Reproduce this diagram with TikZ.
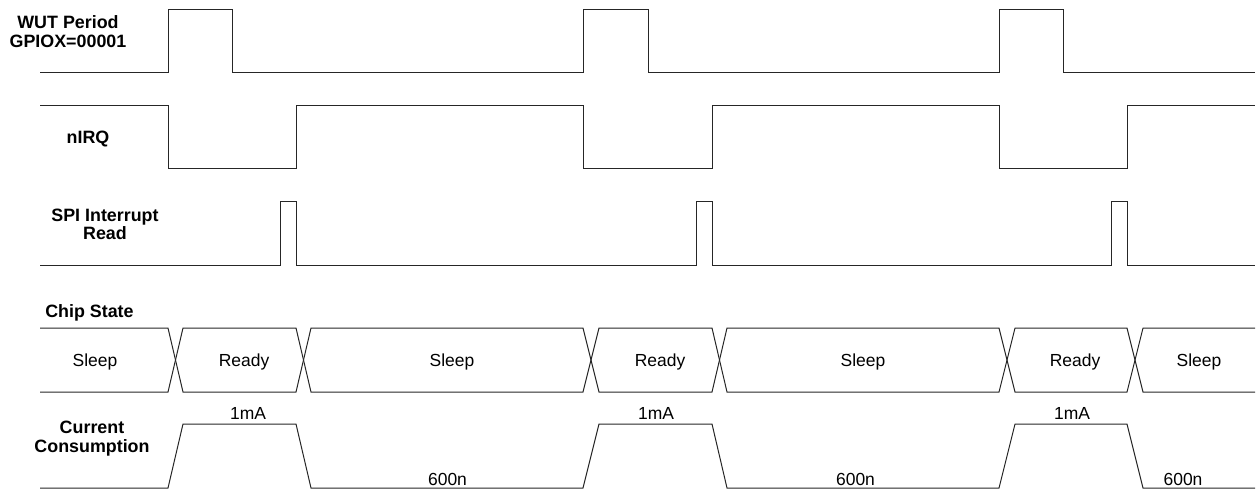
\documentclass[tikz,border=0pt]{standalone}
\usepackage{fontspec}
\setmainfont{Liberation Sans}
\usepackage{xcolor}
\usepackage{tikz}
\usetikzlibrary{shapes,arrows}

\tikzset{
  wave/.style={line width=0.75pt, color=black!85, line join=miter},
  siglbl/.style={inner sep=0.75pt, align=center, font=\fontsize{13.4}{13.8}\selectfont\bfseries},
  vallbl/.style={inner sep=0.75pt, font=\fontsize{13.1}{13.6}\selectfont}
}

\begin{document}
\begin{tikzpicture}[x=0.75pt,y=0.75pt,yscale=-1,xscale=1]
        \useasboundingbox (0,0) rectangle (1259,490);

        % signal names
        \draw (68,14.5) node [anchor=north][siglbl] (wutlbl) {WUT Period\\GPIOX=00001};
        \draw (88,129.5) node [anchor=north][siglbl] (nirqlbl) {nIRQ};
        \draw (105,207.5) node [anchor=north][siglbl] (spilbl) {SPI Interrupt\\Read};
        \draw (44,303.5) node [anchor=north west][siglbl] (chiplbl) {Chip State};
        \draw (92,420) node [anchor=north][siglbl] (currlbl) {Current\\Consumption};

        % WUT period
        \draw [wave] (40,72) -- (168,72) -- (168,9) -- (232,9) -- (232,72) -- (583,72) -- (583,9) -- (648,9) -- (648,72) -- (999,72) -- (999,9) -- (1063,9) -- (1063,72) -- (1255,72) ;
        % nIRQ
        \draw [wave] (40,105) -- (168,105) -- (168,168) -- (296,168) -- (296,105) -- (583,105) -- (583,168) -- (712,168) -- (712,105) -- (999,105) -- (999,168) -- (1127,168) -- (1127,105) -- (1255,105) ;
        % SPI read
        \draw [wave] (40,265) -- (280,265) -- (280,201) -- (296,201) -- (296,265) -- (696,265) -- (696,201) -- (712,201) -- (712,265) -- (1111,265) -- (1111,201) -- (1127,201) -- (1127,265) -- (1255,265) ;

        % chip state bus
        \draw [wave] (40,328) -- (168,328) -- (183,392) -- (296,392) -- (311,328) -- (583,328) -- (599,392) -- (712,392) -- (727,328) -- (999,328) -- (1015,392) -- (1127,392) -- (1143,328) -- (1255,328) ;
        \draw [wave] (40,392) -- (168,392) -- (183,328) -- (296,328) -- (311,392) -- (583,392) -- (599,328) -- (712,328) -- (727,392) -- (999,392) -- (1015,328) -- (1127,328) -- (1143,392) -- (1255,392) ;

        \draw (95,366.5) node [anchor=base][vallbl] (sleepa) {Sleep};
        \draw (244,366.5) node [anchor=base][vallbl] (readya) {Ready};
        \draw (452,366.5) node [anchor=base][vallbl] (sleepb) {Sleep};
        \draw (660,366.5) node [anchor=base][vallbl] (readyb) {Ready};
        \draw (863,366.5) node [anchor=base][vallbl] (sleepc) {Sleep};
        \draw (1075,366.5) node [anchor=base][vallbl] (readyc) {Ready};
        \draw (1199,366.5) node [anchor=base][vallbl] (sleepd) {Sleep};

        % current
        \draw [wave] (40,488) -- (168,488) -- (183,424) -- (296,424) -- (311,488) -- (583,488) -- (599,424) -- (712,424) -- (727,488) -- (999,488) -- (1015,424) -- (1127,424) -- (1143,488) -- (1255,488) ;

        \draw (248,419.5) node [anchor=base][vallbl] (onema) {1mA};
        \draw (656,419.5) node [anchor=base][vallbl] (onemb) {1mA};
        \draw (1072,419.5) node [anchor=base][vallbl] (onemc) {1mA};
        \draw (447.5,485.5) node [anchor=base][vallbl] (sixa) {600n};
        \draw (855.5,485.5) node [anchor=base][vallbl] (sixb) {600n};
        \draw (1183,485.5) node [anchor=base][vallbl] (sixc) {600n};
    \end{tikzpicture}
\end{document}
